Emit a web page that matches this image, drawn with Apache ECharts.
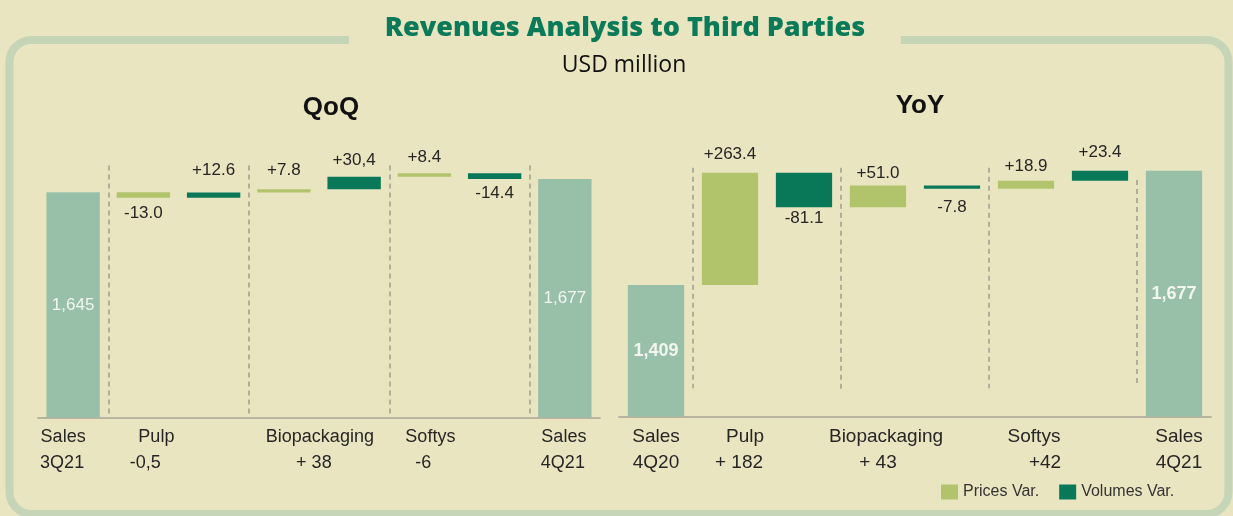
<!DOCTYPE html>
<html>
<head>
<meta charset="utf-8">
<script src="https://cdn.jsdelivr.net/npm/echarts@6/dist/echarts.min.js"></script>
<style>
html, body { margin: 0; padding: 0; background: #E9E5C1; }
#chart { width: 1233px; height: 516px; }
</style>
</head>
<body>
<div id="chart"></div>
<script>
// slots: sales, pulp price, pulp volume, bio price, bio volume, softys price, softys volume, sales
const slots = ['start', 'pulpP', 'pulpV', 'bioP', 'bioV', 'softP', 'softV', 'end']

// QoQ
const qoqLabelTop = ['Sales', 'Pulp', '', 'Biopackaging', '', 'Softys', '', 'Sales']
const qoqLabelBottom = ['3Q21', '-0,5', '', '+ 38', '', '-6', '', '4Q21']
const qoqStart = 1645
const qoqEnd = 1677
const qoqPrices = [-13.0, 7.8, 8.4]
const qoqVolumes = [12.6, 30.4, -14.4]
const qoqPriceText = ['-13.0', '+7.8', '+8.4']
const qoqVolumeText = ['+12.6', '+30,4', '-14.4']
const qoqSepAt = [1, 3, 5, 7]
const qoqSepTop = [1710, 1710, 1710, 1710]
const qoqSepBottom = [1100, 1100, 1100, 1100]

// YoY
const yoyLabelTop = ['Sales', 'Pulp', '', 'Biopackaging', '', 'Softys', '', 'Sales']
const yoyLabelBottom = ['4Q20', '+ 182', '', '+ 43', '', '+42', '', '4Q21']
const yoyStart = 1409
const yoyEnd = 1677
const yoyPrices = [263.4, 51.0, 18.9]
const yoyVolumes = [-81.1, -7.8, 23.4]
const yoyPriceText = ['+263.4', '+51.0', '+18.9']
const yoyVolumeText = ['-81.1', '-7.8', '+23.4']
const yoySepAt = [1, 3, 5, 7]
const yoySepTop = [1684, 1684, 1684, 1655]
const yoySepBottom = [1167, 1165, 1167, 1170]

// label tweaks (px)
const qoqPriceDist = [7, 10, 7]
const qoqVolumeDist = [14, 8, 6]
const yoyPriceDist = [10, 4, 6]
const yoyVolumeDist = [3, 10, 10]
const qoqTopShift = [-10, 13, 0, 36, 0, 6, 0, -1]
const qoqBottomShift = [-11, 2, 0, 30, 0, -1, 0, -2]
const yoyTopShift = [0, 15, 0, 8, 0, 8, 0, 5]
const yoyBottomShift = [0, 9, 0, 0, 0, 19, 0, 5]

const BG = '#E9E5C1'
const SALES = '#98BFA8'
const PRICE = '#B1C46C'
const VOLUME = '#097858'
const TEXT = '#262626'
const FONT = "'Liberation Sans', Arial, sans-serif"

function deltaItem(v, text, dist) {
    return {
        value: Math.abs(v),
        label: {
            show: true,
            position: v >= 0 ? 'top' : 'bottom',
            distance: dist,
            formatter: text,
            color: TEXT,
            fontSize: 17,
            fontFamily: FONT
        }
    }
}

function waterfall(start, end, prices, volumes, priceText, volumeText, priceDist, volumeDist) {
    const base = ['-'], sales = [start], price = ['-'], volume = ['-']
    let cur = start
    prices.forEach((p, i) => {
        const v = volumes[i]
        base.push(Math.min(cur, cur + p)); sales.push('-'); volume.push('-')
        price.push(deltaItem(p, priceText[i], priceDist[i]))
        cur += p
        base.push(Math.min(cur, cur + v)); sales.push('-'); price.push('-')
        volume.push(deltaItem(v, volumeText[i], volumeDist[i]))
        cur += v
    })
    base.push('-'); sales.push(end); price.push('-'); volume.push('-')
    return {base, sales, price, volume}
}

function axisLabel(tops, bottoms, topShift, bottomShift, size) {
    const rich = {}
    const pad = s => s >= 0 ? [0, 0, 0, 2 * s] : [0, -2 * s, 0, 0]
    tops.forEach((t, i) => {
        rich['t' + i] = {padding: pad(topShift[i]), fontSize: size, color: TEXT, fontFamily: FONT, lineHeight: 26}
        rich['b' + i] = {padding: pad(bottomShift[i]), fontSize: size, color: TEXT, fontFamily: FONT, lineHeight: 26}
    })
    return {
        interval: 0,
        margin: 7,
        rich: rich,
        formatter: (value, i) => tops[i] ? '{t' + i + '|' + tops[i] + '}\n{b' + i + '|' + bottoms[i] + '}' : ''
    }
}

function panelSeries(w, idx, stack, salesBold) {
    const common = {type: 'bar', stack: stack, xAxisIndex: idx, yAxisIndex: idx, barWidth: '76%'}
    return [
        Object.assign({}, common, {name: 'base', data: w.base, itemStyle: {color: 'transparent'}, silent: true}),
        Object.assign({}, common, {
            name: 'Sales', data: w.sales, itemStyle: {color: SALES},
            label: {
                show: true, position: 'inside', color: '#F3F6EF',
                fontSize: salesBold ? 18 : 17, fontWeight: salesBold ? 'bold' : 'normal', fontFamily: FONT,
                formatter: p => p.value.toLocaleString('en-US')
            }
        }),
        Object.assign({}, common, {name: 'Prices Var.', data: w.price, itemStyle: {color: PRICE}}),
        Object.assign({}, common, {name: 'Volumes Var.', data: w.volume, itemStyle: {color: VOLUME}})
    ]
}

function separators(idx, at, top, bottom) {
    return {
        type: 'line', xAxisIndex: idx + 2, yAxisIndex: idx, data: [], silent: true,
        markLine: {
            silent: true, symbol: 'none', label: {show: false},
            lineStyle: {type: [5, 4], color: '#9E9C90', width: 1.5},
            data: at.map((x, i) => [{coord: [x, top[i]]}, {coord: [x, bottom[i]]}])
        }
    }
}

const qoq = waterfall(qoqStart, qoqEnd, qoqPrices, qoqVolumes, qoqPriceText, qoqVolumeText, qoqPriceDist, qoqVolumeDist)
const yoy = waterfall(yoyStart, yoyEnd, yoyPrices, yoyVolumes, yoyPriceText, yoyVolumeText, yoyPriceDist, yoyVolumeDist)

const chart = echarts.init(document.getElementById('chart'))

const options = {
    animation: false,
    backgroundColor: BG,
    title: [
        {
            text: 'Revenues Analysis to Third Parties', left: 625, textAlign: 'center', top: 15, padding: 0,
            textStyle: {color: '#0B7A59', fontSize: 27, fontWeight: 800, fontFamily: "'Open Sans', sans-serif"}
        },
        {
            text: 'USD million', left: 624, textAlign: 'center', top: 54, padding: 0,
            textStyle: {color: '#111', fontSize: 23, fontWeight: 'normal', fontFamily: "'Open Sans', sans-serif"}
        },
        {
            text: 'QoQ', left: 331, textAlign: 'center', top: 95, padding: 0,
            textStyle: {color: '#111', fontSize: 26, fontWeight: 'bold', fontFamily: FONT}
        },
        {
            text: 'YoY', left: 920, textAlign: 'center', top: 93, padding: 0,
            textStyle: {color: '#111', fontSize: 26, fontWeight: 'bold', fontFamily: FONT}
        }
    ],
    legend: {
        data: ['Prices Var.', 'Volumes Var.'],
        left: 941, top: 484, padding: 0,
        icon: 'rect', itemWidth: 17, itemHeight: 15, itemGap: 20,
        textStyle: {color: '#333', fontSize: 16, fontFamily: FONT}
    },
    grid: [
        {left: 38, width: 562, top: 165.4, bottom: 98.5},
        {left: 619, width: 592, top: 163, bottom: 99.3}
    ],
    xAxis: [
        {
            type: 'category', gridIndex: 0, data: slots,
            axisLine: {lineStyle: {color: '#B8B4A0', width: 2}}, axisTick: {show: false},
            axisLabel: axisLabel(qoqLabelTop, qoqLabelBottom, qoqTopShift, qoqBottomShift, 18)
        },
        {
            type: 'category', gridIndex: 1, data: slots,
            axisLine: {lineStyle: {color: '#B8B4A0', width: 2}}, axisTick: {show: false},
            axisLabel: axisLabel(yoyLabelTop, yoyLabelBottom, yoyTopShift, yoyBottomShift, 19)
        },
        {type: 'value', gridIndex: 0, min: 0, max: 8, show: false},
        {type: 'value', gridIndex: 1, min: 0, max: 8, show: false}
    ],
    yAxis: [
        {type: 'value', gridIndex: 0, min: 1100, max: 1710, show: false, splitLine: {show: false}},
        {type: 'value', gridIndex: 1, min: 1100, max: 1695, show: false, splitLine: {show: false}}
    ],
    graphic: [
        {
            type: 'rect', silent: true, z: -1,
            shape: {x: 9.5, y: 40, width: 1219, height: 474, r: 22},
            style: {fill: 'none', stroke: '#C6D5B8', lineWidth: 8}
        },
        {
            type: 'rect', silent: true, z: -1,
            shape: {x: 349, y: 34, width: 552, height: 12},
            style: {fill: BG}
        }
    ],
    series: [
        ...panelSeries(qoq, 0, 'qoq', false),
        ...panelSeries(yoy, 1, 'yoy', true),
        separators(0, qoqSepAt, qoqSepTop, qoqSepBottom),
        separators(1, yoySepAt, yoySepTop, yoySepBottom)
    ]
}

chart.setOption(options)
</script>
</body>
</html>
